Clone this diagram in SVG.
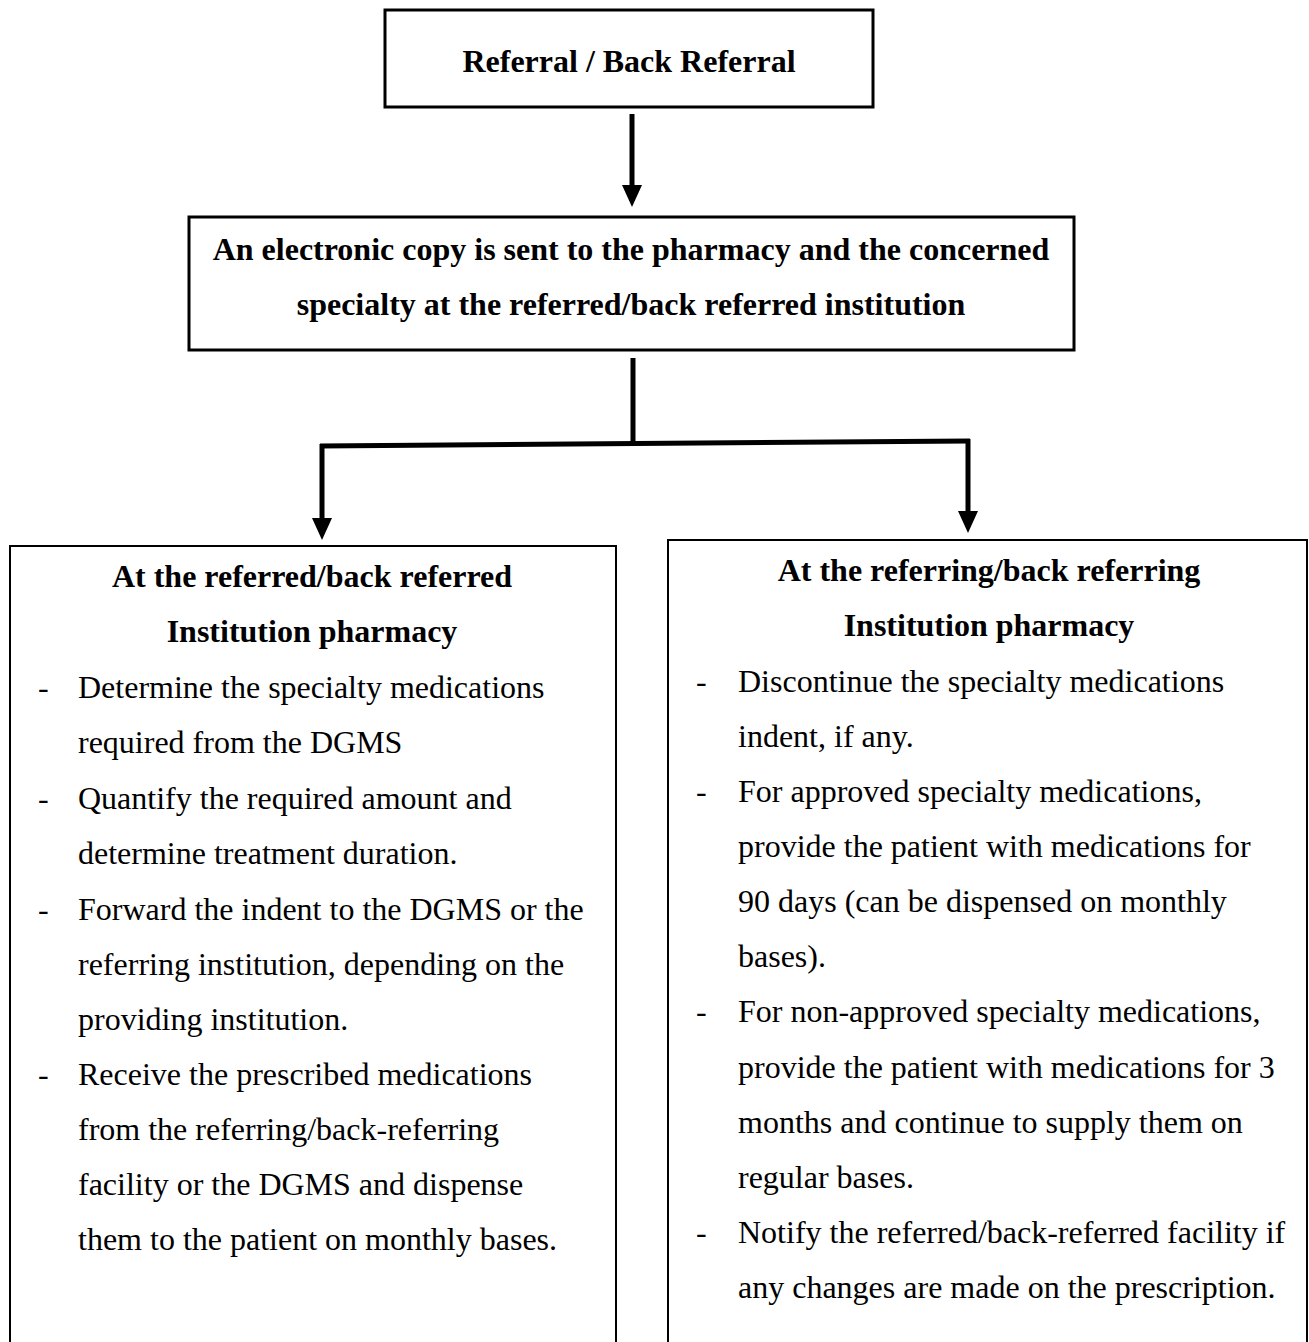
<svg xmlns="http://www.w3.org/2000/svg" width="1309" height="1342" viewBox="0 0 1309 1342">
<style>
.box{fill:#fff;stroke:#000}
.hd{font-family:"Liberation Serif","Times New Roman",serif;font-weight:bold;font-size:32px;text-anchor:middle;fill:#000}
.tx{font-family:"Liberation Serif","Times New Roman",serif;font-size:32px;fill:#000}
.ln{stroke:#000;stroke-width:5;fill:none}
</style>
<defs>
<marker id="ah" markerUnits="userSpaceOnUse" markerWidth="22" markerHeight="20" refX="9" refY="10" orient="auto" viewBox="0 0 22 20">
<path d="M0,0 L22,10 L0,20 z" fill="#000"/>
</marker>
</defs>
<rect width="1309" height="1342" fill="#fff"/>
<g id="connectors">
<line class="ln" x1="632" y1="114" x2="632" y2="194" marker-end="url(#ah)"/>
<line class="ln" x1="633" y1="358" x2="633" y2="444"/>
<polyline class="ln" points="320,446 970,441"/>
<line class="ln" x1="322" y1="444" x2="322" y2="527" marker-end="url(#ah)"/>
<line class="ln" x1="968" y1="439" x2="968" y2="520" marker-end="url(#ah)"/>
</g>
<g id="n1">
<rect class="box" x="385" y="10" width="488" height="97" stroke-width="3"/>
<text class="hd" x="629" y="72">Referral / Back Referral</text>
</g>
<g id="n2">
<rect class="box" x="189" y="217" width="885" height="133" stroke-width="3"/>
<text class="hd" x="631" y="260">An electronic copy is sent to the pharmacy and the concerned</text>
<text class="hd" x="631" y="315">specialty at the referred/back referred institution</text>
</g>
<g id="n3">
<path class="box" d="M10,1342 V546 H616 V1342" stroke-width="2"/>
<text class="hd" x="312" y="587">At the referred/back referred</text>
<text class="hd" x="312" y="642">Institution pharmacy</text>
<g class="tx">
<text x="38" y="698">-</text><text x="78" y="698">Determine the specialty medications</text>
<text x="78" y="753">required from the DGMS</text>
<text x="38" y="809">-</text><text x="78" y="809">Quantify the required amount and</text>
<text x="78" y="864">determine treatment duration.</text>
<text x="38" y="920">-</text><text x="78" y="920">Forward the indent to the DGMS or the</text>
<text x="78" y="975">referring institution, depending on the</text>
<text x="78" y="1030">providing institution.</text>
<text x="38" y="1085">-</text><text x="78" y="1085">Receive the prescribed medications</text>
<text x="78" y="1140">from the referring/back-referring</text>
<text x="78" y="1195">facility or the DGMS and dispense</text>
<text x="78" y="1250">them to the patient on monthly bases.</text>
</g>
</g>
<g id="n4">
<path class="box" d="M668,1342 V540 H1307 V1342" stroke-width="2"/>
<text class="hd" x="989" y="581">At the referring/back referring</text>
<text class="hd" x="989" y="636">Institution pharmacy</text>
<g class="tx">
<text x="696" y="692">-</text><text x="738" y="692">Discontinue the specialty medications</text>
<text x="738" y="747">indent, if any.</text>
<text x="696" y="802">-</text><text x="738" y="802">For approved specialty medications,</text>
<text x="738" y="857">provide the patient with medications for</text>
<text x="738" y="912">90 days (can be dispensed on monthly</text>
<text x="738" y="967">bases).</text>
<text x="696" y="1022">-</text><text x="738" y="1022">For non-approved specialty medications,</text>
<text x="738" y="1078">provide the patient with medications for 3</text>
<text x="738" y="1133">months and continue to supply them on</text>
<text x="738" y="1188">regular bases.</text>
<text x="696" y="1243">-</text><text x="738" y="1243">Notify the referred/back-referred facility if</text>
<text x="738" y="1298">any changes are made on the prescription.</text>
</g>
</g>
</svg>
